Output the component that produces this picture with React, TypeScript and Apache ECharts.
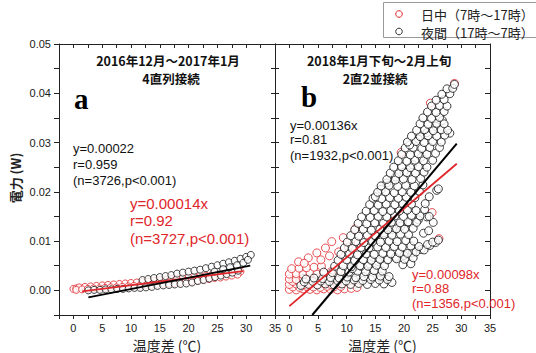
import React, { useEffect, useRef } from "react";
import * as echarts from "echarts";

// ---- axis ranges / tick labels ----
const X_MIN = -2.5;
const X_MAX = 35;
const X_STEP = 2.5;
const X_LABEL_STEP = 5;
const Y_MIN = -0.005;
const Y_MAX = 0.05;
const Y_STEP = 0.005;
const Y_LABEL_STEP = 0.01;

const legendLabels = ["日中（7時～17時）", "夜間（17時～7時）"];
const xAxisTitle = "温度差 (℃)";
const yAxisTitle = "電力 (W)";

const leftTitle = ["2016年12月～2017年1月", "4直列接続"];
const rightTitle = ["2018年1月下旬～2月上旬", "2直2並接続"];

const leftNightStats = ["y=0.00022", "r=0.959", "(n=3726,p<0.001)"];
const leftDayStats = ["y=0.00014x", "r=0.92", "(n=3727,p<0.001)"];
const rightNightStats = ["y=0.00136x", "r=0.81", "(n=1932,p<0.001)"];
const rightDayStats = ["y=0.00098x", "r=0.88", "(n=1356,p<0.001)"];

// ---- panel a (left) ----
const leftDayPoints = [
  [0, 0.0003], [0.5, 0.0004], [1, 0.0006], [2, 0.0007], [3, 0.0008], [4, 0.0009], [5, 0.001], [6, 0.0011],
  [7, 0.0012], [8, 0.0013], [9, 0.0014], [10, 0.0015], [11, 0.0016], [12, 0.0017], [13, 0.0018], [14, 0.0019],
  [15, 0.002], [16, 0.0021], [17, 0.0023], [18, 0.0024], [19, 0.0025], [20, 0.0026], [21, 0.0027], [22, 0.0029],
  [23, 0.003], [24, 0.0031], [25, 0.0032], [26, 0.0033], [27, 0.0035], [28, 0.0036], [29, 0.0038],
  [0.5, 0.0001], [1.5, 0.0002], [2.5, 0.0003], [3.5, 0.0004], [4.5, 0.0004], [5.5, 0.0005], [6.5, 0.0006],
  [7.5, 0.0006], [8.5, 0.0007], [9.5, 0.0008], [10.5, 0.0009], [11.5, 0.0009], [12.5, 0.001], [13.5, 0.0011],
  [14.5, 0.0012], [15.5, 0.0013], [16.5, 0.0014], [17.5, 0.0015], [18.5, 0.0016], [19.5, 0.0018], [20.5, 0.0019],
  [21.5, 0.002], [22.5, 0.0022], [23.5, 0.0023], [24.5, 0.0025], [25.5, 0.0026], [26.5, 0.0028], [27.5, 0.003],
  [28.5, 0.0032],
];

const leftNightPoints = [
  [2.6, 0.0], [3.6, 0.0001], [4.6, 0.0001], [5.6, 0.0002], [6.6, 0.0002], [7.6, 0.0003], [8.6, 0.0003],
  [9.6, 0.0004], [10.6, 0.0005], [11.6, 0.0005], [12.6, 0.0006], [13.6, 0.0007], [14.6, 0.0009], [15.6, 0.001],
  [16.6, 0.0011], [17.6, 0.0012], [18.6, 0.0013], [19.6, 0.0014], [20.6, 0.0016], [21.6, 0.0019], [22.6, 0.0021],
  [23.6, 0.0024], [24.6, 0.0027], [25.6, 0.003], [26.6, 0.0033], [27.6, 0.0036], [28.6, 0.004],
  [12, 0.0021], [13, 0.0023], [14, 0.0025], [15, 0.0027], [16, 0.0029], [17, 0.0031], [18, 0.0034], [19, 0.0036],
  [20, 0.0038], [21, 0.004], [22, 0.0042], [23, 0.0045], [24, 0.0048], [25, 0.0051], [26, 0.0054], [27, 0.0057],
  [28, 0.006], [29, 0.0064], [30, 0.0068], [30.8, 0.0072],
  [24.5, 0.0038], [26, 0.0043], [27.2, 0.0047], [28.4, 0.0051], [29.5, 0.0056], [30.3, 0.0062],
];

const leftDayFit = [[1.5, -0.0002], [29.5, 0.0039]];
const leftNightFit = [[2.6, -0.0014], [30.7, 0.005]];

// ---- panel b (right) ----
const rightDayPoints = [
  [0.0, 0.0002], [1.2, 0.0001], [2.4, 0.0003], [3.6, 0.0002], [4.8, 0.0001], [6.0, 0.0003], [7.2, 0.0002],
  [8.4, 0.0001], [9.6, 0.0003], [10.8, 0.0004], [11.8, 0.0006],
  [0.6, 0.0007], [1.8, 0.0006], [3.0, 0.0008], [4.2, 0.0007], [5.4, 0.0006], [6.6, 0.0008], [7.8, 0.0007], [9.0, 0.0008],
  [0.0, 0.0012], [1.2, 0.0013], [2.4, 0.0011], [3.6, 0.0013], [4.8, 0.0012], [6.0, 0.0014], [7.2, 0.0012], [8.4, 0.0013],
  [0.6, 0.0018], [1.8, 0.0017], [3.0, 0.0019], [4.2, 0.0018], [5.4, 0.0019], [6.6, 0.0018],
  [0.0, 0.0023], [1.2, 0.0022], [2.4, 0.0024], [3.6, 0.0023], [4.8, 0.0025], [6.0, 0.0023], [7.2, 0.0026],
  [0.0, 0.0033], [1.2, 0.0034], [2.4, 0.0032], [3.6, 0.0035], [4.8, 0.0033], [6.0, 0.0036], [7.3, 0.0038], [8.6, 0.004],
  [0.4, 0.0044], [1.7, 0.0045], [3.0, 0.0046], [4.3, 0.0047], [5.6, 0.0049],
  [1.6, 0.0058], [3.3, 0.0066], [4.8, 0.0076], [6.3, 0.0086], [7.4, 0.0099], [9.4, 0.0107], [11.5, 0.0125],
  [2.6, 0.0055], [5.5, 0.0062], [7.0, 0.007], [8.6, 0.0078], [10.3, 0.0088], [12.0, 0.0096],
  [24.6, 0.038], [28.8, 0.042], [24.9, 0.0158], [26.1, 0.0105], [19.5, 0.028],
];

const rightNightPoints = [
  [2.0, 0.001], [3.4, 0.0012], [4.9, 0.0011], [6.3, 0.0013], [7.8, 0.0011], [9.2, 0.0013], [10.7, 0.0012],
  [12.1, 0.0014], [13.6, 0.0012], [15.0, 0.0014], [16.5, 0.0013], [17.9, 0.0016],
  [2.6, 0.0017], [4.1, 0.0018], [5.5, 0.0019], [7.0, 0.0018], [8.4, 0.002], [9.9, 0.0019], [11.3, 0.0021],
  [12.8, 0.002], [14.2, 0.0022], [15.7, 0.0021], [17.1, 0.0022],
  [2.9, 0.0023], [4.3, 0.0025], [5.8, 0.0024], [7.2, 0.0026], [8.7, 0.0025], [10.1, 0.0027], [11.6, 0.0026],
  [13.0, 0.0028], [14.5, 0.0027], [15.9, 0.0029], [17.4, 0.0028],
  [6.0, 0.0037], [7.5, 0.0036], [9.0, 0.0038], [10.4, 0.0037], [11.9, 0.0039], [13.3, 0.0038], [14.8, 0.004], [16.2, 0.0039],
  [11.0, 0.0044], [12.5, 0.0049], [14.0, 0.0054], [15.5, 0.0058], [17.0, 0.0062], [18.5, 0.0067], [20.0, 0.0071],
  [21.5, 0.0076], [23.0, 0.0083], [24.5, 0.0091], [25.5, 0.0097],
  [7.9, 0.0049], [9.4, 0.005], [10.8, 0.0048], [12.3, 0.005], [13.7, 0.0049], [15.2, 0.0051], [16.6, 0.005],
  [19.8, 0.0052], [21.2, 0.0054],
  [8.5, 0.0061], [10.0, 0.0062], [11.4, 0.006], [12.9, 0.0062], [14.3, 0.0061], [15.8, 0.0063], [17.2, 0.0062],
  [18.7, 0.0064], [20.1, 0.0063], [21.6, 0.0066],
  [9.0, 0.0073], [10.5, 0.0074], [11.9, 0.0072], [13.4, 0.0074], [14.8, 0.0073], [16.3, 0.0075], [17.7, 0.0074],
  [19.2, 0.0076], [20.6, 0.0075], [22.1, 0.0078], [23.5, 0.0082],
  [9.6, 0.0086], [11.0, 0.0085], [12.5, 0.0087], [13.9, 0.0086], [15.4, 0.0088], [16.8, 0.0087], [18.3, 0.0089],
  [19.7, 0.0088], [21.2, 0.009], [22.6, 0.0089], [24.1, 0.0093],
  [10.1, 0.0098], [11.6, 0.0099], [13.0, 0.0097], [14.5, 0.0099], [15.9, 0.0098], [17.4, 0.01], [18.8, 0.0099],
  [20.3, 0.0101], [21.7, 0.01], [25.0, 0.0098], [26.0, 0.0102],
  [15.0, 0.011], [16.5, 0.0117], [18.0, 0.0124], [19.5, 0.0131], [21.0, 0.0137], [22.5, 0.0143], [24.0, 0.0149],
  [10.7, 0.0111], [12.1, 0.011], [13.6, 0.0112], [15.0, 0.0111], [16.5, 0.0113], [17.9, 0.0112], [19.4, 0.0114],
  [20.8, 0.0113], [23.4, 0.0116],
  [11.4, 0.0123], [12.9, 0.0124], [14.3, 0.0122], [15.8, 0.0124], [17.2, 0.0123], [18.7, 0.0125], [20.1, 0.0124],
  [21.6, 0.0126], [24.3, 0.0121],
  [12.0, 0.0136], [13.5, 0.0135], [14.9, 0.0137], [16.4, 0.0136], [17.8, 0.0138], [19.3, 0.0137], [20.7, 0.0139],
  [22.2, 0.0138], [25.1, 0.0138],
  [12.6, 0.0149], [14.1, 0.0148], [15.5, 0.015], [17.0, 0.0149], [18.4, 0.0151], [19.9, 0.015], [21.3, 0.0152],
  [22.8, 0.0151], [24.4, 0.015],
  [13.4, 0.0161], [14.8, 0.0162], [16.3, 0.016], [17.7, 0.0162], [19.2, 0.0161], [20.6, 0.0163], [22.1, 0.0162], [23.6, 0.0164],
  [14.0, 0.0174], [15.5, 0.0173], [16.9, 0.0175], [18.4, 0.0174], [19.8, 0.0176], [21.3, 0.0175], [23.7, 0.0176],
  [14.6, 0.0187], [16.1, 0.0186], [17.5, 0.0188], [19.0, 0.0187], [20.4, 0.0189], [21.9, 0.0188], [24.4, 0.019],
  [15.0, 0.019], [16.0, 0.0205], [17.0, 0.0218], [18.5, 0.023], [20.0, 0.024], [21.5, 0.0255], [23.0, 0.027],
  [15.4, 0.0199], [16.8, 0.02], [18.3, 0.0198], [19.7, 0.02], [21.2, 0.0199], [22.7, 0.0201], [25.7, 0.0203], [26.0, 0.0206],
  [16.0, 0.0212], [17.4, 0.0213], [18.9, 0.0211], [20.3, 0.0213], [21.8, 0.0212], [23.3, 0.0214],
  [17.0, 0.0225], [18.5, 0.0224], [19.9, 0.0226], [21.4, 0.0225], [22.9, 0.0227],
  [17.6, 0.0238], [19.1, 0.0237], [20.5, 0.0239], [22.0, 0.0238], [23.5, 0.024],
  [18.2, 0.025], [19.6, 0.0251], [21.1, 0.0249], [22.5, 0.0251], [24.0, 0.025],
  [19.0, 0.0263], [20.5, 0.0262], [21.9, 0.0264], [23.4, 0.0263], [25.0, 0.0264],
  [19.6, 0.0276], [21.1, 0.0275], [22.5, 0.0277], [24.0, 0.0276], [25.5, 0.0278],
  [20.2, 0.0289], [21.6, 0.029], [23.1, 0.0288], [24.5, 0.029], [26.2, 0.029],
  [21.0, 0.0295], [22.5, 0.0307], [24.0, 0.032], [25.5, 0.0333], [26.7, 0.0345],
  [20.6, 0.0301], [22.1, 0.0302], [23.5, 0.03], [25.0, 0.0302], [26.5, 0.0301], [28.0, 0.0319],
  [21.3, 0.0313], [22.8, 0.0312], [24.2, 0.0314], [25.7, 0.0313], [27.1, 0.0315],
  [22.2, 0.0325], [23.6, 0.0326], [25.1, 0.0324], [26.5, 0.0326], [27.6, 0.0325],
  [22.8, 0.0338], [24.2, 0.0337], [25.7, 0.0339], [27.0, 0.0338],
  [23.3, 0.035], [24.8, 0.0349], [26.2, 0.0351],
  [24.1, 0.0362], [25.6, 0.0361], [27.0, 0.0363],
  [24.8, 0.0374], [26.2, 0.0375], [27.5, 0.0374],
  [25.6, 0.0386], [27.0, 0.0387],
  [26.6, 0.0398], [28.0, 0.0399],
  [27.5, 0.0409], [28.5, 0.041],
  [28.8, 0.0418],
];

const rightDayFit = [[0, -0.0032], [29.2, 0.0257]];
const rightNightFit = [[4.0, -0.005], [29.2, 0.0298]];

const RED = "#e0262a";
const BLACK = "#111111";
const SANS = '"Liberation Sans", Arial, "Noto Sans CJK JP", sans-serif';
const CJK = '"Noto Sans CJK JP", "Liberation Sans", sans-serif';

const isMultiple = (v: number, step: number) => {
  const k = Math.round(v / step);
  return Math.abs(v - k * step) < step * 1e-6;
};

export default function App() {
  const ref = useRef<HTMLDivElement>(null);

  useEffect(() => {
    if (!ref.current) return;
    const chart = echarts.init(ref.current, undefined, { renderer: "svg" });

    const grids = [
      { left: 59, top: 44, width: 216, height: 271 },
      { left: 275, top: 44, width: 215, height: 271 },
    ];

    const tickStyle = { color: "#222", width: 1 };

    const xBottom = (gi: number) => ({
      type: "value",
      gridIndex: gi,
      position: "bottom",
      min: X_MIN,
      max: X_MAX,
      interval: X_STEP,
      axisLine: { show: true, onZero: false, lineStyle: { color: "#222", width: 1 } },
      axisTick: { show: true, inside: false, length: 4, lineStyle: tickStyle },
      axisLabel: {
        show: true,
        margin: 7,
        color: "#1a1a1a",
        fontSize: 11,
        fontFamily: SANS,
        formatter: (v: number) => (v >= 0 && isMultiple(v, X_LABEL_STEP) ? String(Math.round(v)) : ""),
      },
      splitLine: { show: false },
    });
    const xTop = (gi: number) => ({
      type: "value",
      gridIndex: gi,
      position: "top",
      min: X_MIN,
      max: X_MAX,
      interval: X_STEP,
      axisLine: { show: true, onZero: false, lineStyle: { color: "#222", width: 1 } },
      axisTick: { show: true, inside: true, length: 4, lineStyle: tickStyle },
      axisLabel: { show: false },
      splitLine: { show: false },
    });
    const yAx = (gi: number, pos: string, labels: boolean, inside: boolean, len: number) => ({
      type: "value",
      gridIndex: gi,
      position: pos,
      min: Y_MIN,
      max: Y_MAX,
      interval: Y_STEP,
      axisLine: { show: true, onZero: false, lineStyle: { color: "#222", width: 1 } },
      axisTick: { show: true, inside, length: len, lineStyle: tickStyle },
      axisLabel: {
        show: labels,
        margin: 8,
        color: "#1a1a1a",
        fontSize: 11,
        fontFamily: SANS,
        formatter: (v: number) =>
          v > -1e-9 && isMultiple(v, Y_LABEL_STEP) ? (Math.round(v / Y_LABEL_STEP) * Y_LABEL_STEP).toFixed(2) : "",
      },
      splitLine: { show: false },
    });

    const scatter = (xi: number, yi: number, data: number[][], color: string, size: number) => ({
      type: "scatter",
      xAxisIndex: xi,
      yAxisIndex: yi,
      data,
      symbol: "circle",
      symbolSize: size,
      itemStyle: { color: "#ffffff", borderColor: color, borderWidth: 1 },
      emphasis: { disabled: true },
    });
    const fit = (xi: number, yi: number, data: number[][], color: string, width: number) => ({
      type: "line",
      xAxisIndex: xi,
      yAxisIndex: yi,
      data,
      symbol: "none",
      showSymbol: false,
      lineStyle: { color, width },
      emphasis: { disabled: true },
      z: 5,
    });

    const txt = (
      x: number,
      y: number,
      text: string,
      size: number,
      color: string,
      opts: { align?: string; weight?: string; family?: string; rotation?: number } = {}
    ) => ({
      type: "text",
      x,
      y,
      rotation: opts.rotation || 0,
      z: 100,
      style: {
        text,
        fill: color,
        fontSize: size,
        fontWeight: opts.weight || "normal",
        fontFamily: opts.family || SANS,
        textAlign: opts.align || "left",
        textVerticalAlign: "middle",
      },
    });

    const graphics: any[] = [
      // legend
      {
        type: "rect",
        shape: { x: 383.5, y: 2.5, width: 160, height: 35 },
        style: { fill: "#fff", stroke: "#999", lineWidth: 1 },
        z: 99,
      },
      { type: "circle", shape: { cx: 399, cy: 14, r: 3.3 }, style: { fill: "#fff", stroke: RED, lineWidth: 1 }, z: 100 },
      { type: "circle", shape: { cx: 399, cy: 31.5, r: 3.3 }, style: { fill: "#fff", stroke: "#333", lineWidth: 1 }, z: 100 },
      txt(421, 14, legendLabels[0], 13, "#222", { family: CJK }),
      txt(421, 32, legendLabels[1], 13, "#222", { family: CJK }),
      // panel titles
      txt(168, 60.5, leftTitle[0], 12.5, "#111", { align: "center", weight: "bold", family: CJK }),
      txt(171, 78, leftTitle[1], 12.5, "#111", { align: "center", weight: "bold", family: CJK }),
      txt(379, 60.5, rightTitle[0], 12.5, "#111", { align: "center", weight: "bold", family: CJK }),
      txt(375, 78.5, rightTitle[1], 12.5, "#111", { align: "center", weight: "bold", family: CJK }),
      // panel letters
      txt(74, 99, "a", 29, "#000", { weight: "bold", family: '"Liberation Serif", "DejaVu Serif", serif' }),
      txt(301, 97, "b", 29, "#000", { weight: "bold", family: '"Liberation Serif", "DejaVu Serif", serif' }),
      // stats
      txt(73, 148, leftNightStats[0], 13, "#111"),
      txt(73, 164.5, leftNightStats[1], 13, "#111"),
      txt(73, 180.5, leftNightStats[2], 13, "#111"),
      txt(130, 203, leftDayStats[0], 15, RED),
      txt(130, 220.5, leftDayStats[1], 15, RED),
      txt(130, 238.5, leftDayStats[2], 15, RED),
      txt(290, 125, rightNightStats[0], 13, "#111"),
      txt(290, 139.5, rightNightStats[1], 13, "#111"),
      txt(290, 155, rightNightStats[2], 13, "#111"),
      txt(412, 274, rightDayStats[0], 13, RED),
      txt(412, 288.5, rightDayStats[1], 13, RED),
      txt(412, 303, rightDayStats[2], 13, RED),
      // axis titles
      txt(167, 344.5, xAxisTitle, 14, "#222", { align: "center", family: CJK }),
      txt(382.5, 344.5, xAxisTitle, 14, "#222", { align: "center", family: CJK }),
      txt(15, 178, yAxisTitle, 13, "#222", { align: "center", weight: "bold", family: CJK, rotation: Math.PI / 2 }),
    ];

    chart.setOption({
      animation: false,
      backgroundColor: "#ffffff",
      grid: grids.map((g) => ({ ...g, show: false, containLabel: false })),
      xAxis: [xBottom(0), xBottom(1), xTop(0), xTop(1)],
      yAxis: [
        yAx(0, "left", true, false, 5),
        yAx(0, "right", false, false, 4),
        yAx(1, "left", false, false, 4),
        yAx(1, "right", false, true, 5),
      ],
      series: [
        scatter(0, 0, leftDayPoints, RED, 7),
        scatter(0, 0, leftNightPoints, BLACK, 7),
        fit(0, 0, leftDayFit, RED, 1.8),
        fit(0, 0, leftNightFit, "#000", 1.8),
        scatter(1, 2, rightDayPoints, RED, 8),
        scatter(1, 2, rightNightPoints, BLACK, 8),
        fit(1, 2, rightDayFit, RED, 1.8),
        fit(1, 2, rightNightFit, "#000", 2),
      ],
      graphic: graphics,
    });

    return () => chart.dispose();
  }, []);

  return (
    <div
      ref={ref}
      style={{ position: "fixed", left: 0, top: 0, width: 536, height: 353, background: "#fff" }}
    />
  );
}
